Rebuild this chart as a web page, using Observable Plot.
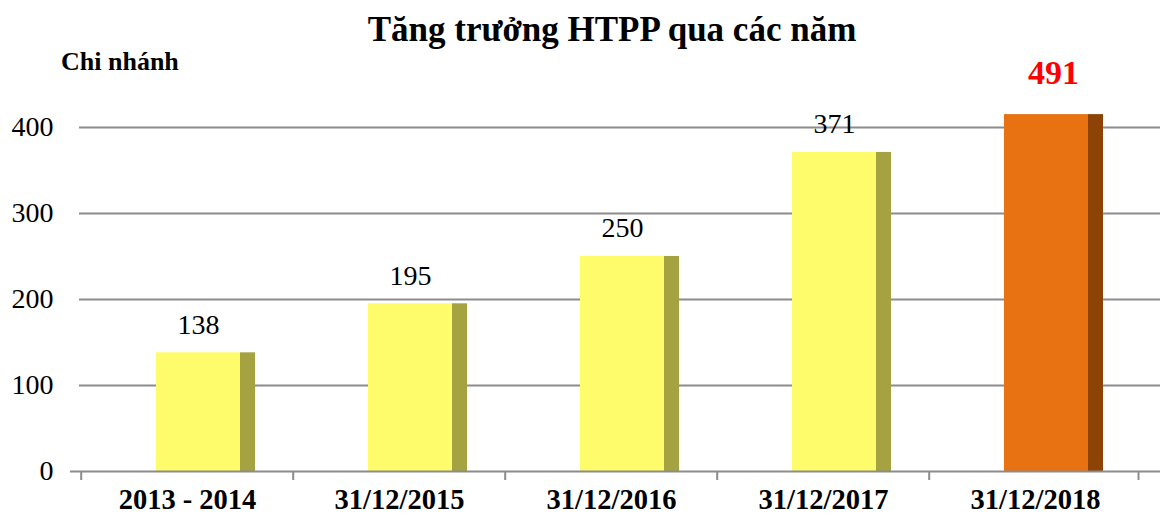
<!DOCTYPE html>
<html>
<head>
<meta charset="utf-8">
<script src="https://cdn.jsdelivr.net/npm/d3@7"></script>
<script src="https://cdn.jsdelivr.net/npm/@observablehq/plot@0.6"></script>
<style>
  html, body { margin: 0; padding: 0; background: #fff; }
  #wrap { position: relative; width: 1168px; height: 515px; font-family: "Liberation Serif", "Times New Roman", serif; }
  #title { position: absolute; left: 342px; top: 12px; width: 540px; text-align: center; font-size: 35px; line-height: 1; font-weight: bold; white-space: nowrap; color: #000; }
  #ylab { position: absolute; left: 61px; top: 49px; font-size: 26px; line-height: 1; font-weight: bold; white-space: nowrap; color: #000; }
  #chart { position: absolute; left: 0; top: 0; }
  #chart svg text { font-family: "Liberation Serif", "Times New Roman", serif; }
</style>
</head>
<body>
<div id="wrap">
  <div id="chart"></div>
  <div id="title">Tăng trưởng HTPP qua các năm</div>
  <div id="ylab">Chi nhánh</div>
</div>
<script>
const categories = ["2013 - 2014", "31/12/2015", "31/12/2016", "31/12/2017", "31/12/2018"];
const barValues = [138, 195, 250, 371, 415];
const labelTexts = ["138", "195", "250", "371", "491"];
const highlighted = [false, false, false, false, true];
const yTicks = [0, 100, 200, 300, 400];

const data = categories.map((c, i) => ({cat: c, v: barValues[i], label: labelTexts[i], hi: highlighted[i]}));
const normal = data.filter(d => !d.hi);
const hi = data.filter(d => d.hi);

const font = '"Liberation Serif", "Times New Roman", serif';

const chart = Plot.plot({
  width: 1168,
  height: 515,
  marginLeft: 79,
  marginRight: 26,
  marginTop: 84,
  marginBottom: 44,
  style: {fontFamily: font, background: "transparent", overflow: "visible"},
  x: {domain: categories, padding: 0},
  y: {domain: [0, 450]},
  marks: [
    Plot.ruleY(yTicks.filter(t => t > 0), {y: d => d, stroke: "#8c8c8c", strokeWidth: 2, insetRight: -18}),
    // bars: front face and darker side face
    Plot.barY(normal, {x: "cat", y: "v", fill: "#fefc6b", insetLeft: 75, insetRight: 53}),
    Plot.barY(normal, {x: "cat", y: "v", fill: "#a5a341", insetLeft: 159, insetRight: 38}),
    Plot.barY(hi, {x: "cat", y: "v", fill: "#e87212", insetLeft: 75, insetRight: 53}),
    Plot.barY(hi, {x: "cat", y: "v", fill: "#8e4306", insetLeft: 159, insetRight: 38}),
    // axes
    Plot.ruleY([0], {stroke: "#8c8c8c", strokeWidth: 2, insetLeft: -9, insetRight: -18}),
    Plot.ruleX([0], {frameAnchor: "left", y1: 0, y2: 450, stroke: "#8c8c8c", strokeWidth: 2}),
    Plot.axisY({ticks: yTicks, tickSize: 0, tickPadding: 26, fontSize: 28, fill: "#000", fontFamily: font, tickFormat: d => String(d), label: null}),
    Plot.axisX({tickSize: 0, tickPadding: 17, fontSize: 28.5, fontWeight: "bold", fill: "#000", fontFamily: font, label: null}),
    Plot.axisX({tickSize: 9, tickFormat: () => "", dx: -106.3, stroke: "#8c8c8c", strokeWidth: 2, label: null}),
    Plot.axisX({ticks: [categories[categories.length - 1]], tickSize: 9, tickFormat: () => "", dx: 103, stroke: "#8c8c8c", strokeWidth: 2, label: null}),
    // value labels
    Plot.text(normal, {x: "cat", y: "v", text: "label", dx: 11, dy: -28, fontSize: 28, fontFamily: font, fill: "#000"}),
    Plot.text(hi, {x: "cat", y: "v", text: "label", dx: 18, dy: -41, fontSize: 34, fontWeight: "bold", fontFamily: font, fill: "#ff0000"})
  ]
});
document.getElementById("chart").appendChild(chart);
</script>
</body>
</html>
